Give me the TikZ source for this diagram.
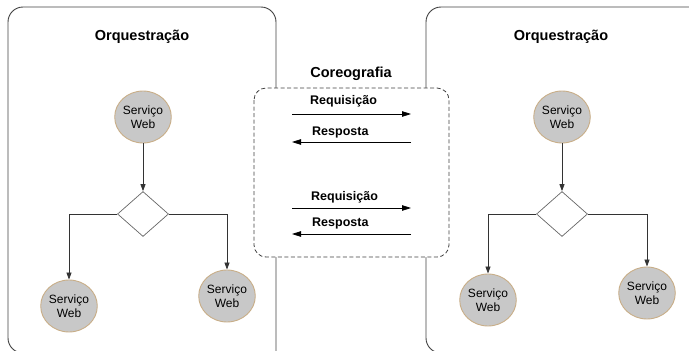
\documentclass[tikz,border=0pt]{standalone}
\usepackage{fontspec}
\setmainfont{Liberation Sans}
\usetikzlibrary{shapes.geometric,arrows.meta}
\definecolor{svcfill}{HTML}{C8C8C8}
\definecolor{svcedge}{HTML}{C8AE88}
\definecolor{frame}{HTML}{404040}
\begin{document}
\begin{tikzpicture}[x=1pt,y=-1pt,
  panel/.style={draw=frame,line width=0.9pt,rounded corners=15pt},
  svc/.style={ellipse,draw=svcedge,fill=svcfill,line width=0.9pt,minimum width=56pt,minimum height=52pt,inner sep=0pt,align=center,font=\fontsize{12}{13.5}\selectfont},
  gate/.style={diamond,draw=frame!80,line width=0.7pt,minimum width=51pt,minimum height=45pt,inner sep=0pt},
  flow/.style={draw=black!80,line width=0.8pt,-{Triangle[length=7pt,width=5pt]}},
  msg/.style={draw=black,line width=0.8pt,-{Triangle[length=9pt,width=5.5pt]}},
  ttl/.style={font=\fontsize{14.5}{16}\selectfont\bfseries},
  lbl/.style={font=\fontsize{12.5}{14}\selectfont\bfseries,anchor=west,inner sep=0pt}]
\useasboundingbox (0,0) rectangle (689,351);
% the two orchestration panels
\draw[panel] (60,353) -- (8,353) -- (8,7) -- (276,7) -- (276,360);
\draw[panel] (480,353) -- (426,353) -- (426,7) -- (700,7);
% choreography region in between
\draw[dashed,draw=frame,line width=0.8pt,fill=white,rounded corners=12pt,dash pattern=on 4pt off 2.5pt] (254,88) rectangle (449,257);
\node[ttl] (tl) at (142,37) {Orquestração};
\node[ttl] (tr) at (561,37) {Orquestração};
\node[ttl] (tc) at (351,74) {Coreografia};
% left orchestration
\node[svc] (a1) at (143,117) {Serviço\\Web};
\node[gate] (g1) at (143,214) {};
\node[svc] (a2) at (69,306) {Serviço\\Web};
\node[svc] (a3) at (227,296) {Serviço\\Web};
\draw[flow] (a1) -- (g1);
\draw[flow] (g1.west) -| (a2.north);
\draw[flow] (g1.east) -| (a3.north);
% right orchestration
\node[svc] (b1) at (562,117) {Serviço\\Web};
\node[gate] (g2) at (562,214) {};
\node[svc] (b2) at (488,300) {Serviço\\Web};
\node[svc] (b3) at (647,293) {Serviço\\Web};
\draw[flow] (b1) -- (g2);
\draw[flow] (g2.west) -| (b2.north);
\draw[flow] (g2.east) -| (b3.north);
% message exchanges
\coordinate (p1) at (292,114); \coordinate (q1) at (411,114);
\coordinate (p2) at (411,142); \coordinate (q2) at (292,142);
\coordinate (p3) at (292,208); \coordinate (q3) at (411,208);
\coordinate (p4) at (411,234); \coordinate (q4) at (292,234);
\draw[msg] (p1) -- (q1);
\draw[msg] (p2) -- (q2);
\draw[msg] (p3) -- (q3);
\draw[msg] (p4) -- (q4);
\node[lbl] (r1) at (310,101) {Requisição};
\node[lbl] (s1) at (312,132) {Resposta};
\node[lbl] (r2) at (311,197) {Requisição};
\node[lbl] (s2) at (312,223) {Resposta};
\end{tikzpicture}
\end{document}
